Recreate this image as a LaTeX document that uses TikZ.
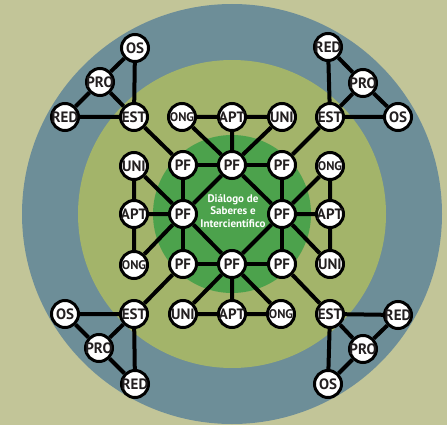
\documentclass[tikz,border=0pt]{standalone}
\usepackage{fontspec}
\setmainfont{PT Sans}
\usetikzlibrary{positioning,backgrounds}
\definecolor{bgkhaki}{HTML}{C2C598}
\definecolor{ringblue}{HTML}{6D8E98}
\definecolor{ringolive}{HTML}{A3B46A}
\definecolor{coregreen}{HTML}{4CA24C}
\definecolor{labelgray}{HTML}{231F20}

\begin{document}
\begin{tikzpicture}[
    x=1pt, y=-1pt,
    actor/.style={circle, draw=black, line width=3pt, fill=white, minimum size=27pt, inner sep=0pt,
        label={[font=\bfseries\fontsize{15}{15}\selectfont, text=labelgray, inner sep=0pt]center:#1}},
    smallactor/.style={actor, label={[font=\bfseries\fontsize{12.5}{12.5}\selectfont, text=labelgray, inner sep=0pt]center:#1}},
    link/.style={line width=4pt, black}
]
\useasboundingbox (0,0) rectangle (447,425);
\begin{scope}[on background layer]
\fill[bgkhaki] (0,0) rectangle (447,425);
\fill[ringblue] (232,214) circle[radius=210pt];
\fill[ringolive] (232,214) circle[radius=154pt];
\fill[coregreen] (232,214) circle[radius=79pt];
\end{scope}

% centre
\node[font=\bfseries\fontsize{11}{12.5}\selectfont, text=white, align=center] (dialogo) at (233,211) {Diálogo de\\Saberes e\\Intercientífico};

% PF ring
\node[actor=PF] (pfnw) at (183,165) {};
\node[actor=PF] (pfn) at (232,165) {};
\node[actor=PF] (pfne) at (282,165) {};
\node[actor=PF] (pfw) at (183,214) {};
\node[actor=PF] (pfe) at (282,214) {};
\node[actor=PF] (pfsw) at (183,264) {};
\node[actor=PF] (pfs) at (232,264) {};
\node[actor=PF] (pfse) at (282,264) {};

% side groups
\node[smallactor=ONG] (ongn) at (182,117) {};
\node[actor=APT] (aptn) at (232,117) {};
\node[actor=UNI] (unin) at (282,117) {};
\node[actor=UNI] (uniw) at (134,166) {};
\node[actor=APT] (aptw) at (134,214) {};
\node[smallactor=ONG] (ongw) at (134,265) {};
\node[actor=UNI] (unis) at (183,314) {};
\node[actor=APT] (apts) at (232,314) {};
\node[smallactor=ONG] (ongs) at (281,314) {};
\node[smallactor=ONG] (onge) at (330,166) {};
\node[actor=APT] (apte) at (330,214) {};
\node[actor=UNI] (unie) at (330,264) {};

% corner groups
\node[actor=EST] (estnw) at (134,117) {};
\node[actor=OS] (osnw) at (135,48) {};
\node[actor=PRO] (pronw) at (100,82) {};
\node[actor=RED] (rednw) at (65,117) {};
\node[actor=EST] (estne) at (330,117) {};
\node[actor=RED] (redne) at (328,47) {};
\node[actor=PRO] (prone) at (363,83) {};
\node[actor=OS] (osne) at (398,117) {};
\node[actor=EST] (estsw) at (134,314) {};
\node[actor=OS] (ossw) at (65,314) {};
\node[actor=PRO] (prosw) at (99,348) {};
\node[actor=RED] (redsw) at (135,384) {};
\node[actor=EST] (estse) at (330,314) {};
\node[actor=RED] (redse) at (398,315) {};
\node[actor=PRO] (prose) at (363,349) {};
\node[actor=OS] (osse) at (328,384) {};

\begin{scope}[on background layer]
% links, PF ring
\draw[link] (pfnw) -- (pfn) (pfn) -- (pfne) (pfsw) -- (pfs) (pfs) -- (pfse);
\draw[link] (pfnw) -- (pfw) (pfw) -- (pfsw) (pfne) -- (pfe) (pfe) -- (pfse);
\draw[link] (pfn) -- (pfw) (pfn) -- (pfe) (pfs) -- (pfw) (pfs) -- (pfe);
% links, side groups
\draw[link] (ongn) -- (aptn) (aptn) -- (unin) (aptn) -- (pfn) (ongn) -- (pfn) (unin) -- (pfn);
\draw[link] (uniw) -- (aptw) (aptw) -- (ongw) (aptw) -- (pfw) (uniw) -- (pfw) (ongw) -- (pfw);
\draw[link] (unis) -- (apts) (apts) -- (ongs) (apts) -- (pfs) (unis) -- (pfs) (ongs) -- (pfs);
\draw[link] (onge) -- (apte) (apte) -- (unie) (apte) -- (pfe) (onge) -- (pfe) (unie) -- (pfe);
% links, corner groups
\draw[link] (estnw) -- (pfnw) (estnw) -- (osnw) (estnw) -- (pronw) (estnw) -- (rednw) (osnw) -- (pronw) (pronw) -- (rednw);
\draw[link] (estne) -- (pfne) (estne) -- (redne) (estne) -- (prone) (estne) -- (osne) (redne) -- (prone) (prone) -- (osne);
\draw[link] (estsw) -- (pfsw) (estsw) -- (ossw) (estsw) -- (prosw) (estsw) -- (redsw) (ossw) -- (prosw) (prosw) -- (redsw);
\draw[link] (estse) -- (pfse) (estse) -- (redse) (estse) -- (prose) (estse) -- (osse) (redse) -- (prose) (prose) -- (osse);
\end{scope}
\end{tikzpicture}
\end{document}
